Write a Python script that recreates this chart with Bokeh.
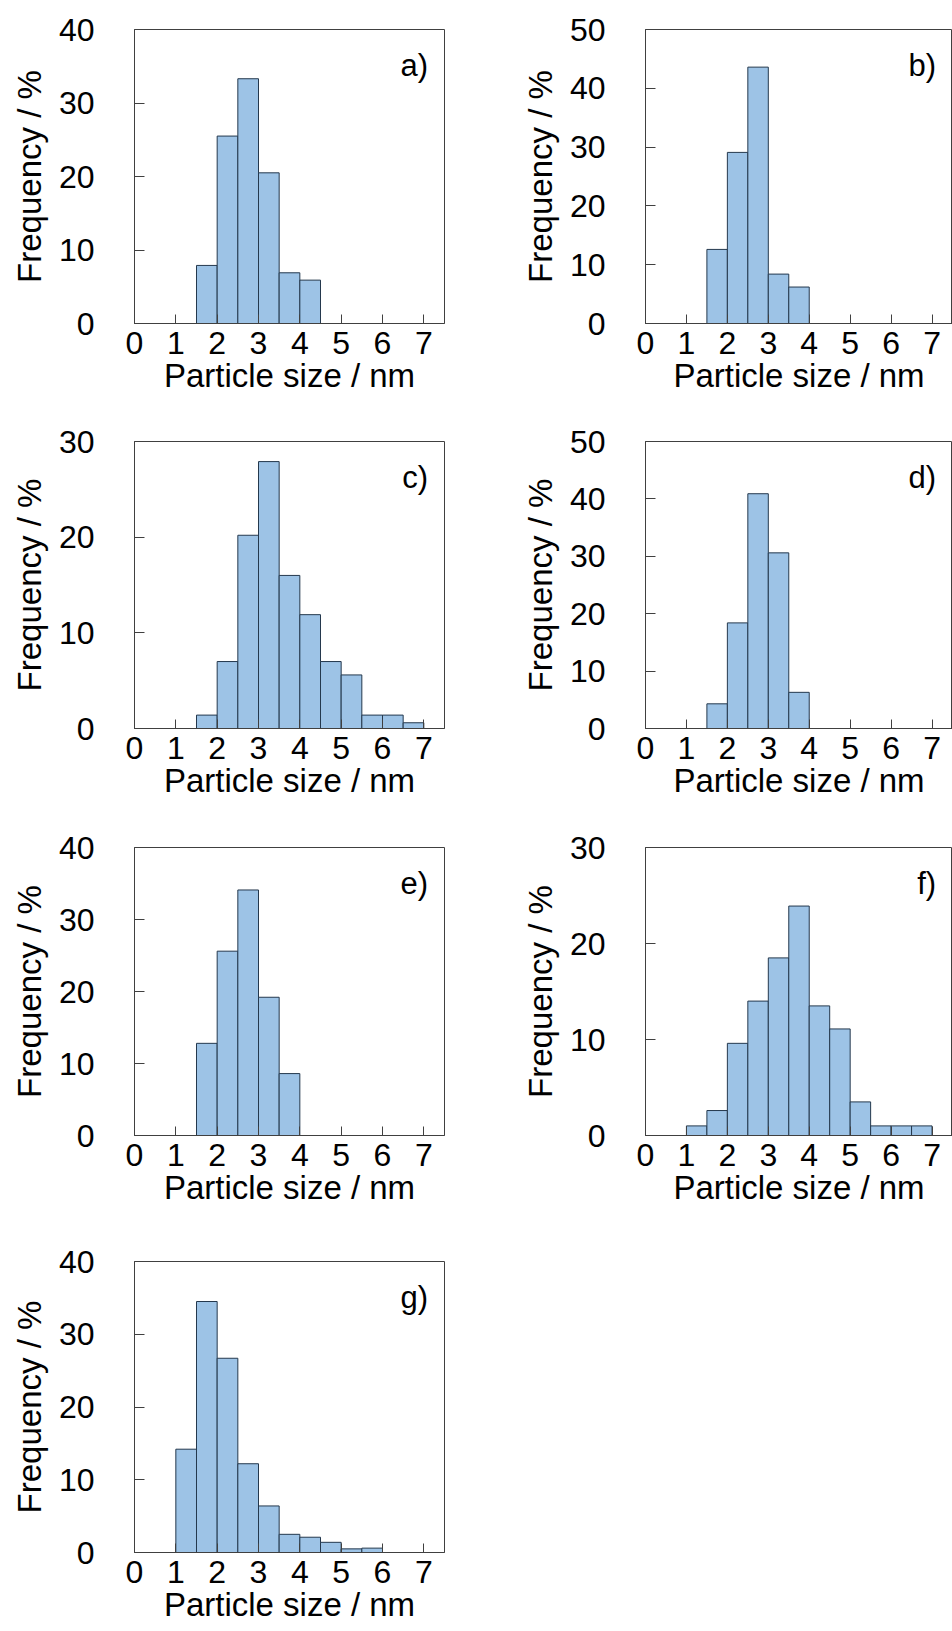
import numpy as np
from bokeh.plotting import figure
from bokeh.models import FixedTicker, Label, Range1d
from bokeh.layouts import gridplot
from bokeh.embed import file_html
from bokeh.resources import INLINE

# ---- data (frequency in %, bins of 0.5 nm) ----
panel_labels = ["a)", "b)", "c)", "d)", "e)", "f)", "g)"]
bin_width = 0.5
bin_start = [1.5, 1.5, 1.5, 1.5, 1.5, 1.0, 1.0]
freq_a = [7.9, 25.5, 33.3, 20.5, 6.9, 5.9]
freq_b = [12.6, 29.1, 43.6, 8.4, 6.2]
freq_c = [1.4, 7.0, 20.2, 27.9, 16.0, 11.9, 7.0, 5.6, 1.4, 1.4, 0.6]
freq_d = [4.3, 18.4, 40.9, 30.6, 6.3]
freq_e = [12.8, 25.6, 34.1, 19.2, 8.6]
freq_f = [1.0, 2.6, 9.6, 14.0, 18.5, 23.9, 13.5, 11.1, 3.5, 1.0, 1.0, 1.0]
freq_g = [14.2, 34.5, 26.7, 12.2, 6.4, 2.5, 2.1, 1.4, 0.5, 0.6]
y_max = [40, 50, 30, 50, 40, 30, 40]
x_ticks = [0, 1, 2, 3, 4, 5, 6, 7]
x_label = "Particle size / nm"
y_label = "Frequency / %"

freqs = [freq_a, freq_b, freq_c, freq_d, freq_e, freq_f, freq_g]

FONT = "Liberation Sans"
BAR_FILL = "#9dc3e6"
BAR_LINE = "#24384d"
FRAME = "#404040"

row_heights = [412, 406, 414, 399]
row_bottoms = [89, 90, 97, 79]
TOP = 29


def make(i):
    r, c = divmod(i, 2)
    left_border = 134 if c == 0 else 169
    right_border = 32 if c == 0 else 0
    p = figure(width=476, height=row_heights[r], output_backend="svg",
               toolbar_location=None, tools="",
               x_range=Range1d(0, 7.5), y_range=Range1d(0, y_max[i]),
               min_border_left=left_border, min_border_right=right_border,
               min_border_top=TOP, min_border_bottom=row_bottoms[r])
    f = np.array(freqs[i], dtype=float)
    lo = bin_start[i] + bin_width * np.arange(len(f))
    p.quad(left=lo, right=lo + bin_width, bottom=0, top=f,
           fill_color=BAR_FILL, line_color=BAR_LINE, line_width=1)

    p.xgrid.visible = False
    p.ygrid.visible = False
    p.outline_line_color = FRAME
    p.outline_line_width = 1
    p.background_fill_color = "white"
    p.border_fill_color = "white"

    p.xaxis.ticker = FixedTicker(ticks=x_ticks)
    p.yaxis.ticker = FixedTicker(ticks=list(range(0, y_max[i] + 1, 10)))
    for ax in (p.xaxis[0], p.yaxis[0]):
        ax.axis_line_color = FRAME
        ax.major_tick_line_color = FRAME
        ax.major_tick_out = 0
        ax.minor_tick_in = 0
        ax.minor_tick_out = 0
        ax.major_label_text_font = FONT
        ax.major_label_text_font_size = "32px"
        ax.major_label_text_color = "black"
        ax.axis_label_text_font = FONT
        ax.axis_label_text_font_size = "33px"
        ax.axis_label_text_font_style = "normal"
        ax.axis_label_text_color = "black"
    p.xaxis.major_tick_in = 9
    p.yaxis.major_tick_in = 10
    p.xaxis.major_label_standoff = 8
    p.yaxis.major_label_standoff = 40
    p.xaxis.axis_label_standoff = 0
    p.yaxis.axis_label_standoff = 8
    p.xaxis.axis_label = x_label
    p.yaxis.axis_label = y_label

    p.add_layout(Label(x=7.1, y=y_max[i] * 0.937, text=panel_labels[i],
                       text_align="right", text_baseline="top",
                       text_font=FONT, text_font_size="31px",
                       text_color="black"))
    return p


plots = [make(i) for i in range(7)]
grid = gridplot([[plots[0], plots[1]], [plots[2], plots[3]],
                 [plots[4], plots[5]], [plots[6], None]],
                toolbar_location=None)

open("out.html", "w").write(file_html(grid, INLINE))
